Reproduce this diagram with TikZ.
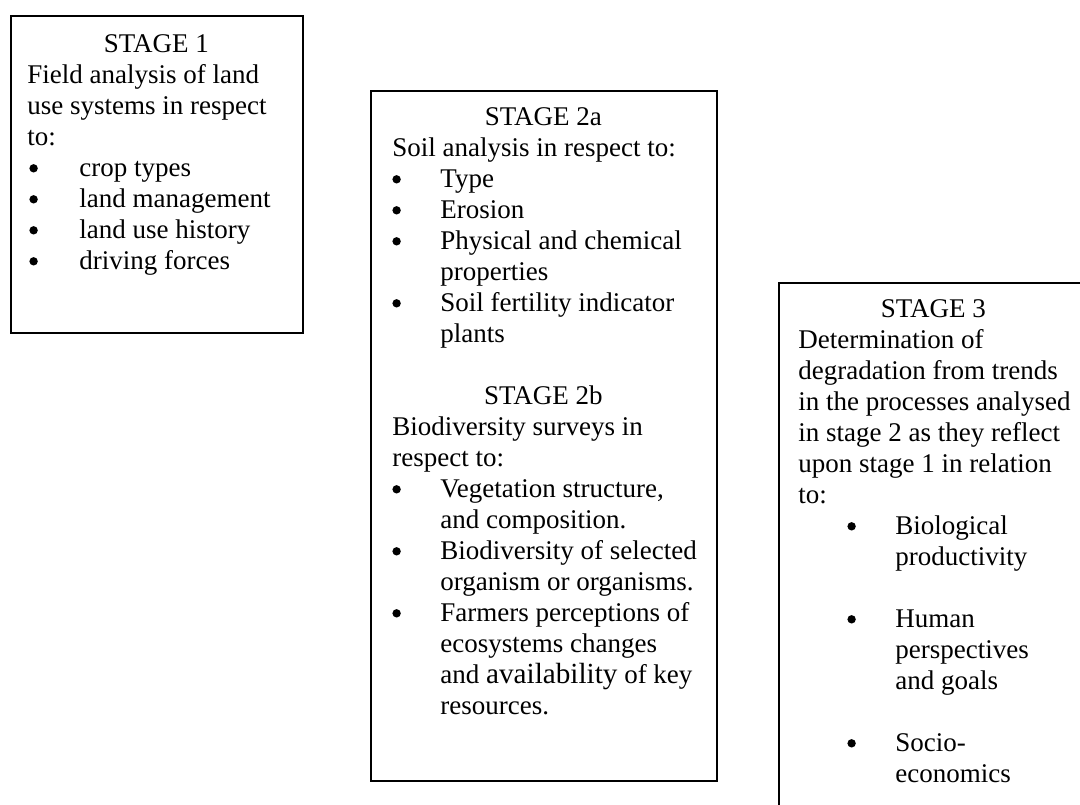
\documentclass[tikz,border=0pt]{standalone}
\usepackage{fontspec}
\setmainfont{Liberation Serif}
\usepackage{tikz}

\newcommand{\stagefont}{\fontsize{13.5}{15.5}\selectfont}
\newcommand{\head}[2]{\strut\makebox[#1]{#2}}
\newcommand{\dotmark}{\raisebox{1.9pt}{\tikz\fill (0,0) circle (2.1pt);}}
\newcommand{\bul}[3]{\makebox[#2][l]{\hspace*{#1}\dotmark}#3}
\newcommand{\cont}[2]{\hspace*{#1}#2}

\begin{document}
\begin{tikzpicture}[x=0.5pt,y=-0.5pt,line width=0.8pt,
    stagebox/.style = {draw, anchor=north west, inner sep=0pt},
    stagetext/.style = {anchor=north west, inner sep=0pt,
        align=left, font=\stagefont}]
    \path[use as bounding box, clip] (0,0) rectangle (1080,804);

    \node[stagebox, minimum width=146pt, minimum height=158.5pt] (s1) at (10,15) {};
    \node[stagebox, minimum width=173pt, minimum height=345pt] (s2) at (370,90) {};
    \node[stagebox, minimum width=155pt, minimum height=280pt] (s3) at (778,282) {};

    \node[stagetext] (t1) at ([shift={(8.5pt,-7.6pt)}]s1.north west) {%
        \head{129pt}{STAGE 1}\\
        Field analysis of land\\
        use systems in respect\\
        to:\\
        \bul{1pt}{26pt}{crop types}\\
        \bul{1pt}{26pt}{land management}\\
        \bul{1pt}{26pt}{land use history}\\
        \bul{1pt}{26pt}{driving forces}};

    \node[stagetext] (t2) at ([shift={(11pt,-6.6pt)}]s2.north west) {%
        \head{151pt}{STAGE 2a}\\
        Soil analysis in respect to:\\
        \bul{0pt}{24pt}{Type}\\
        \bul{0pt}{24pt}{Erosion}\\
        \bul{0pt}{24pt}{Physical and chemical}\\
        \cont{24pt}{properties}\\
        \bul{0pt}{24pt}{Soil fertility indicator}\\
        \cont{24pt}{plants}\\
        \mbox{}\\
        \head{151pt}{STAGE 2b}\\
        Biodiversity surveys in\\
        respect to:\\
        \bul{0pt}{24pt}{Vegetation structure,}\\
        \cont{24pt}{and composition.}\\
        \bul{0pt}{24pt}{Biodiversity of selected}\\
        \cont{24pt}{organism or organisms.}\\
        \bul{0pt}{24pt}{Farmers perceptions of}\\
        \cont{24pt}{ecosystems changes}\\
        \cont{24pt}{and {\fontsize{14.6}{15.5}\selectfont availability} of key}\\
        \cont{24pt}{resources.}};

    \node[stagetext] (t3) at ([shift={(10pt,-6.6pt)}]s3.north west) {%
        \head{135pt}{STAGE 3}\\
        Determination of\\
        degradation from trends\\
        in the processes analysed\\
        in stage 2 as they reflect\\
        upon stage 1 in relation\\
        to:\\
        \bul{24.5pt}{48.5pt}{Biological}\\
        \cont{48.5pt}{productivity}\\
        \mbox{}\\
        \bul{24.5pt}{48.5pt}{Human}\\
        \cont{48.5pt}{perspectives}\\
        \cont{48.5pt}{and goals}\\
        \mbox{}\\
        \bul{24.5pt}{48.5pt}{Socio-}\\
        \cont{48.5pt}{economics}};
\end{tikzpicture}
\end{document}
